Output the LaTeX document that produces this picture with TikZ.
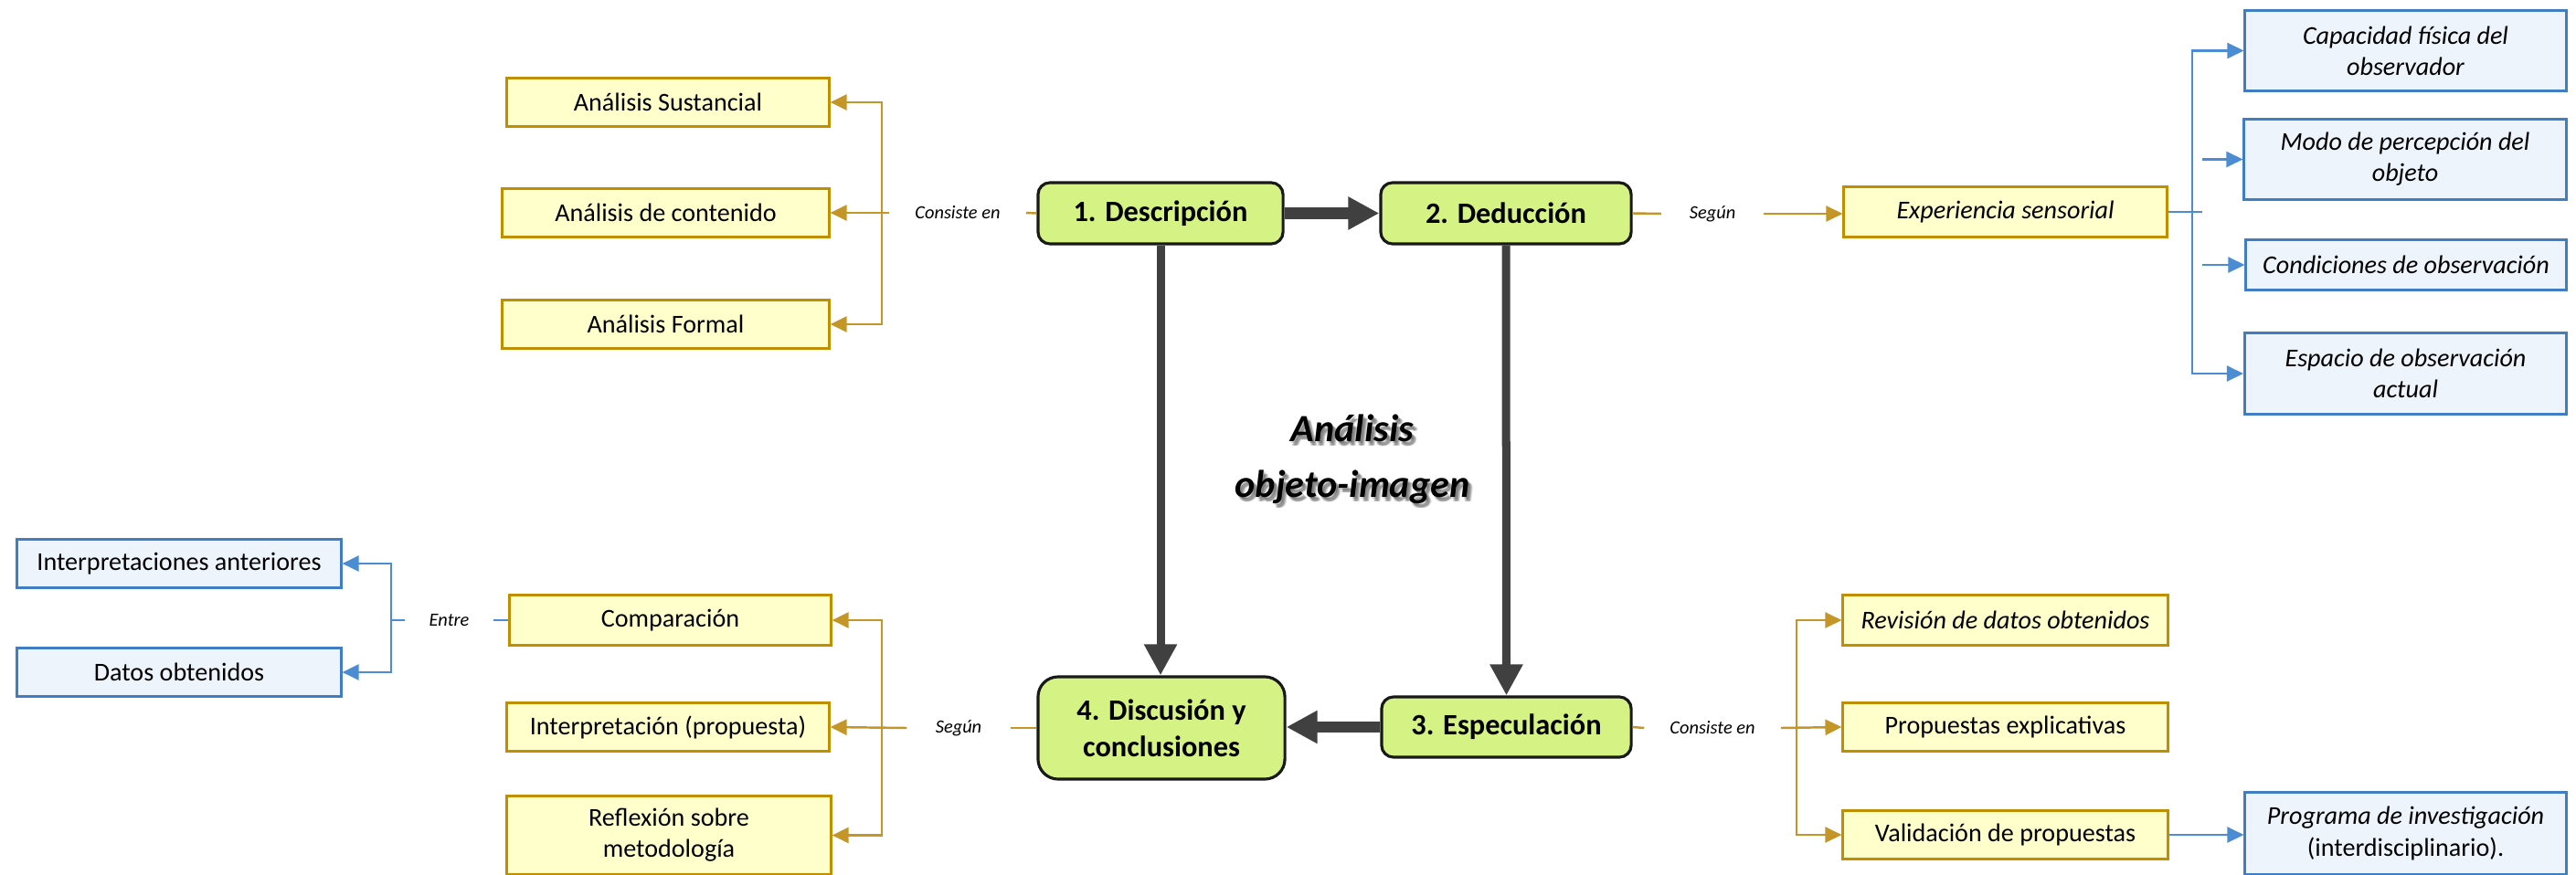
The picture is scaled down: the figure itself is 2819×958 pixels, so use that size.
\documentclass[tikz,border=0pt]{standalone}
\usepackage{fontspec}
\setmainfont{Carlito}
\usetikzlibrary{arrows.meta,calc}

\definecolor{yfill}{RGB}{255,255,204}
\definecolor{ydraw}{RGB}{191,143,0}
\definecolor{glink}{RGB}{196,150,40}
\definecolor{bfill}{RGB}{237,244,252}
\definecolor{bdraw}{RGB}{65,125,195}
\definecolor{blink}{RGB}{75,140,210}
\definecolor{gfill}{RGB}{213,242,132}
\definecolor{darkarrow}{RGB}{64,64,64}

\begin{document}
\begin{tikzpicture}[x=0.01cm,y=-0.01cm,
  box/.style={inner sep=0pt, line width=0.85pt, align=center, font=\fontsize{8}{9.7}\selectfont},
  ybox/.style={box, draw=ydraw, fill=yfill},
  bbox/.style={box, draw=bdraw, fill=bfill},
  gbox/.style={draw=black!90, fill=gfill, line width=0.9pt, rounded corners=0.13cm, inner sep=0pt, align=center, font=\bfseries\fontsize{9.2}{11.4}\selectfont},
  lbl/.style={inner sep=0pt, minimum height=0.2cm, font=\itshape\fontsize{5.8}{7}\selectfont},
  gold/.style={draw=glink, line width=0.7pt},
  blue/.style={draw=blink, line width=0.7pt},
  tip/.style={-{Triangle[length=0.18cm,width=0.17cm]}},
  big/.style={draw=darkarrow, -{Triangle[length=0.34cm,width=0.34cm]}},
  titlefont/.style={font=\bfseries\itshape\fontsize{12}{17.4}\selectfont, align=center},
  shade/.style={titlefont, text=black, opacity=0.16},
]
\useasboundingbox (0,0) rectangle (2819,958);

% central four stages
\node[gbox, minimum width=2.68cm, minimum height=0.67cm] (desc) at (1270,233.5) {1. Descripción};
\node[gbox, minimum width=2.74cm, minimum height=0.67cm] (ded) at (1648,233.5) {2. Deducción};
\node[gbox, minimum width=2.73cm, minimum height=0.66cm] (esp) at (1648.5,796) {3. Especulación};
\node[gbox, rounded corners=0.22cm, minimum width=2.70cm, minimum height=1.12cm] (disc) at (1271,797) {4. Discusión y\\conclusiones};

\draw[big, line width=0.12cm] (desc.east) -- (ded.west);
\draw[big, line width=0.09cm] (ded.south) -- (esp.north);
\draw[big, line width=0.12cm] (esp.west) -- (esp.west -| disc.east);
\draw[big, line width=0.09cm] (desc.south) -- (desc.south |- disc.north);

% title in the middle, with a soft drop shadow
\node[shade] (tsh1) at (1482,505) {Análisis\\objeto-imagen};
\node[shade] (tsh2) at (1484,507) {Análisis\\objeto-imagen};
\node[shade] (tsh3) at (1485,508) {Análisis\\objeto-imagen};
\node[shade] (tsh4) at (1483,507.5) {Análisis\\objeto-imagen};
\node[titlefont] (title) at (1480,503) {Análisis\\objeto-imagen};

% 1. Descripción: kinds of analysis
\node[ybox, minimum width=3.52cm, minimum height=0.52cm] (sus) at (731,112) {Análisis Sustancial};
\node[ybox, minimum width=3.57cm, minimum height=0.52cm] (cont) at (728.5,233) {Análisis de contenido};
\node[ybox, minimum width=3.57cm, minimum height=0.52cm] (form) at (728.5,355) {Análisis Formal};
\node[lbl, minimum width=1.48cm] (l1) at (1048,233) {Consiste en};
\coordinate (bx1) at (965,233);
\draw[gold] (desc.west) -- (l1.east);
\draw[gold,tip] (l1.west) -- (cont.east);
\draw[gold,tip] (bx1) |- (sus.east);
\draw[gold,tip] (bx1) |- (form.east);

% 2. Deducción: sensory experience
\node[ybox, font=\itshape\fontsize{8}{9.7}\selectfont, minimum width=3.53cm, minimum height=0.54cm] (exp) at (2194.5,232) {Experiencia sensorial};
\node[lbl, minimum width=1.11cm] (l2) at (1874,234) {Según};
\draw[gold] (ded.east) -- (l2.west);
\draw[gold,tip] (l2.east) -- (l2.east -| exp.west);

\node[bbox, font=\itshape\fontsize{8}{9.7}\selectfont, minimum width=3.51cm, minimum height=0.87cm] (cap) at (2632.5,55.5) {Capacidad física del\\observador};
\node[bbox, font=\itshape\fontsize{8}{9.7}\selectfont, minimum width=3.52cm, minimum height=0.87cm] (modo) at (2632,174.5) {Modo de percepción del\\objeto};
\node[bbox, font=\itshape\fontsize{8}{9.7}\selectfont, minimum width=3.50cm, minimum height=0.54cm] (cond) at (2633,290) {Condiciones de observación};
\node[bbox, font=\itshape\fontsize{8}{9.7}\selectfont, minimum width=3.52cm, minimum height=0.88cm] (espa) at (2632.5,409) {Espacio de observación\\actual};
\coordinate (bx2) at (2399,232);
\coordinate (bx2e) at (2410,232);
\draw[blue] (exp.east) -- (bx2e);
\draw[blue,tip] (bx2) |- (cap.west);
\draw[blue,tip] (bx2) |- (espa.west);
\draw[blue,tip] (modo.west -| bx2e) -- (modo.west);
\draw[blue,tip] (cond.west -| bx2e) -- (cond.west);

% 3. Especulación
\node[ybox, font=\itshape\fontsize{8}{9.7}\selectfont, minimum width=3.55cm, minimum height=0.54cm] (rev) at (2194.5,679) {Revisión de datos obtenidos};
\node[ybox, minimum width=3.55cm, minimum height=0.52cm] (prop) at (2194.5,796) {Propuestas explicativas};
\node[ybox, minimum width=3.55cm, minimum height=0.52cm] (val) at (2194.5,914) {Validación de propuestas};
\node[bbox, minimum width=3.51cm, minimum height=0.89cm] (prog) at (2632.5,912.5) {\textit{Programa de investigación}\\(interdisciplinario).};
\node[lbl, minimum width=1.48cm] (l3) at (1874,797) {Consiste en};
\coordinate (bx3) at (1966,797);
\draw[gold] (esp.east) -- (l3.west);
\draw[gold,tip] (l3.east) -- (prop.west);
\draw[gold,tip] (bx3) |- (rev.west);
\draw[gold,tip] (bx3) |- (val.west);
\draw[blue,tip] (val.east) -- (val.east -| prog.west);

% 4. Discusión y conclusiones
\node[ybox, minimum width=3.51cm, minimum height=0.54cm] (comp) at (733.5,679) {Comparación};
\node[ybox, minimum width=3.52cm, minimum height=0.52cm] (interp) at (731,796) {Interpretación (propuesta)};
\node[ybox, minimum width=3.54cm, minimum height=0.85cm] (refl) at (732,914.5) {Reflexión sobre\\metodología};
\node[lbl, minimum width=1.12cm] (l4) at (1049,797) {Según};
\coordinate (bx4) at (965,797);
\draw[gold] (disc.west) -- (l4.east);
\draw[gold,tip] (l4.west) -- (interp.east);
\draw[gold,tip] (bx4) |- (comp.east);
\draw[gold,tip] (bx4) |- (refl.east);

\node[bbox, minimum width=3.54cm, minimum height=0.52cm] (ia) at (196,617) {Interpretaciones anteriores};
\node[bbox, minimum width=3.54cm, minimum height=0.52cm] (datos) at (196,736) {Datos obtenidos};
\node[lbl, minimum width=0.95cm] (l5) at (491.5,679) {Entre};
\coordinate (bx5) at (428,679);
\draw[blue] (comp.west) -- (l5.east);
\draw[blue] (l5.west) -- (bx5);
\draw[blue,tip] (bx5) |- (ia.east);
\draw[blue,tip] (bx5) |- (datos.east);
\end{tikzpicture}
\end{document}
